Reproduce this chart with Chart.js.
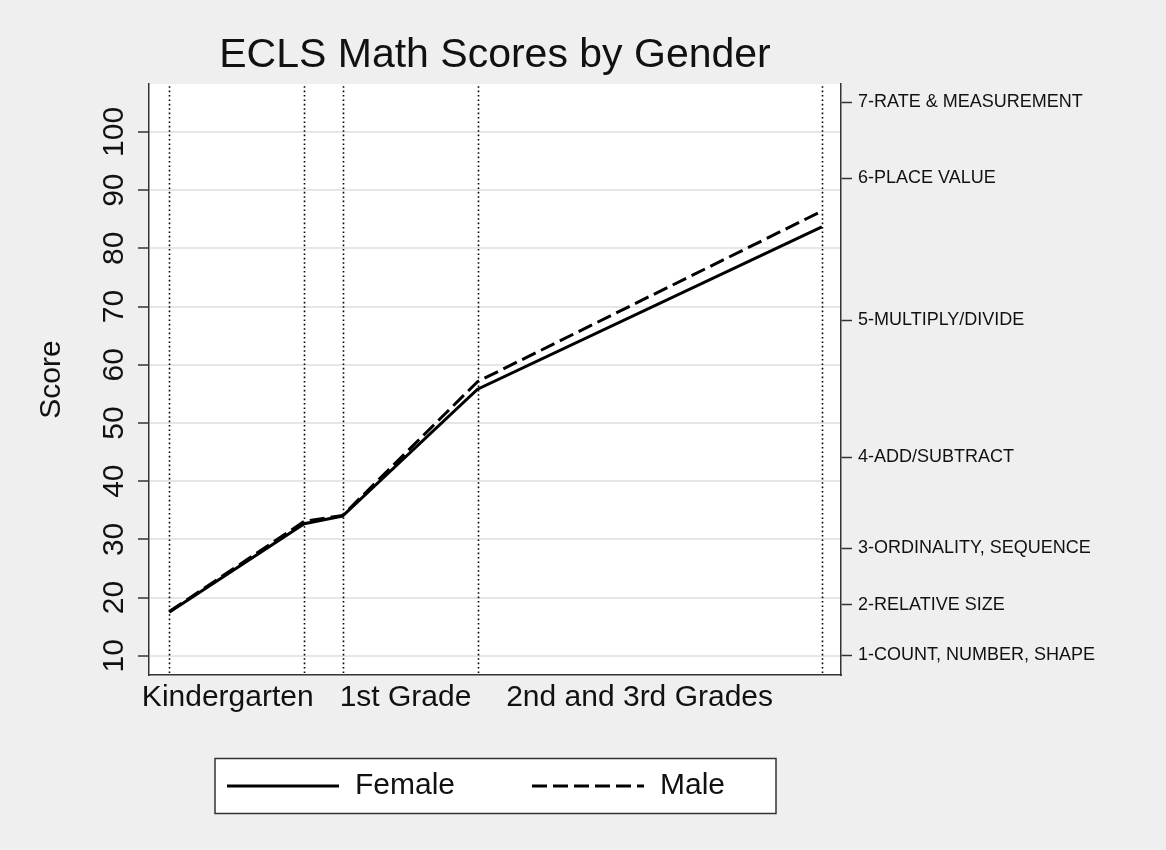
<!DOCTYPE html>
<html>
<head>
<meta charset="utf-8">
<title>ECLS Math Scores by Gender</title>
<script src="https://cdn.jsdelivr.net/npm/chart.js@4.4.1/dist/chart.umd.min.js"></script>
<style>
  html, body { margin: 0; padding: 0; background: #efefef; }
  #wrap { width: 1166px; height: 850px; }
</style>
</head>
<body>
<div id="wrap"><canvas id="mathChart" width="1166" height="850"></canvas></div>
<script>
// survey waves placed on a time axis
const waveTime = [0, 6, 7.7, 13.7, 29];
const female = [17.5, 32.7, 34.0, 55.8, 83.7];
const male = [17.6, 33.1, 34.1, 57.1, 86.4];

const gradeLabels = ['Kindergarten', '1st Grade', '2nd and 3rd Grades'];
const gradeLabelPos = [2.6, 10.5, 20.9];

const scoreTicks = [10, 20, 30, 40, 50, 60, 70, 80, 90, 100];

const levelNames = ['1-COUNT, NUMBER, SHAPE', '2-RELATIVE SIZE', '3-ORDINALITY, SEQUENCE',
    '4-ADD/SUBTRACT', '5-MULTIPLY/DIVIDE', '6-PLACE VALUE', '7-RATE & MEASUREMENT'];
const levelScores = [10.1, 18.8, 28.5, 44.1, 67.6, 92.0, 105.1];

const FONT = '"Liberation Sans", Arial, sans-serif';
Chart.defaults.font.family = FONT;
Chart.defaults.color = '#111';

// grey page, white plot region
const plotBackground = {
    id: 'plotBackground',
    beforeDraw(chart) {
        const { ctx, chartArea: a } = chart;
        ctx.save();
        ctx.fillStyle = '#efefef';
        ctx.fillRect(0, 0, chart.width, chart.height);
        ctx.fillStyle = '#ffffff';
        ctx.fillRect(a.left, a.top, a.right - a.left, a.bottom - a.top);
        ctx.restore();
    }
};

// dotted vertical line at every wave
const waveLines = {
    id: 'waveLines',
    beforeDatasetsDraw(chart) {
        const { ctx, chartArea: a, scales: { x } } = chart;
        ctx.save();
        ctx.strokeStyle = '#000';
        ctx.lineWidth = 1.6;
        ctx.setLineDash([1.6, 2.8]);
        waveTime.forEach(t => {
            const px = Math.round(x.getPixelForValue(t)) + 0.5;
            ctx.beginPath();
            ctx.moveTo(px, a.top + 2);
            ctx.lineTo(px, a.bottom);
            ctx.stroke();
        });
        ctx.restore();
    }
};

// framed legend under the plot, stata style
const boxLegend = {
    id: 'boxLegend',
    afterDraw(chart) {
        const ctx = chart.ctx;
        const a = chart.chartArea;
        const left = a.left + 66, top = 758.5, w = 561, h = 55;
        ctx.save();
        ctx.fillStyle = '#ffffff';
        ctx.fillRect(left, top, w, h);
        ctx.strokeStyle = '#333';
        ctx.lineWidth = 1.5;
        ctx.strokeRect(left, top, w, h);
        const cy = top + h / 2;
        const starts = [left + 12, left + 317];
        chart.data.datasets.forEach((ds, i) => {
            const x0 = starts[i];
            ctx.strokeStyle = ds.borderColor;
            ctx.lineWidth = ds.borderWidth;
            ctx.setLineDash(ds.borderDash || []);
            ctx.beginPath();
            ctx.moveTo(x0, cy);
            ctx.lineTo(x0 + 112, cy);
            ctx.stroke();
            ctx.setLineDash([]);
            ctx.fillStyle = '#111';
            ctx.font = '30px ' + FONT;
            ctx.textBaseline = 'middle';
            ctx.textAlign = 'left';
            ctx.fillText(ds.label, x0 + 128, cy);
        });
        ctx.restore();
    }
};

var ctx = document.getElementById('mathChart').getContext('2d');
var mathChart = new Chart(ctx, {
    type: 'line',
    data: {
        datasets: [{
            label: 'Female',
            data: waveTime.map((t, i) => ({ x: t, y: female[i] })),
            borderColor: '#000',
            borderWidth: 3,
            borderDash: [],
            pointRadius: 0,
            tension: 0
        }, {
            label: 'Male',
            data: waveTime.map((t, i) => ({ x: t, y: male[i] })),
            borderColor: '#000',
            borderWidth: 3,
            borderDash: [15, 6],
            pointRadius: 0,
            tension: 0
        }]
    },
    options: {
        responsive: false,
        animation: false,
        devicePixelRatio: 1,
        layout: { padding: 0 },
        plugins: {
            legend: { display: false },
            tooltip: { enabled: false },
            title: {
                display: true,
                text: 'ECLS Math Scores by Gender',
                fullSize: false,
                color: '#111',
                font: { size: 41, weight: 'normal' },
                padding: { top: 31, bottom: 4 }
            }
        },
        scales: {
            x: {
                type: 'linear',
                min: -0.9,
                max: 29.85,
                grid: { display: false, drawTicks: false },
                border: { display: true, color: '#333', width: 1.5 },
                ticks: {
                    font: { size: 30 },
                    color: '#111',
                    padding: 5,
                    autoSkip: false,
                    maxRotation: 0,
                    callback: (v, i) => gradeLabels[i]
                },
                afterBuildTicks: s => { s.ticks = gradeLabelPos.map(v => ({ value: v })); },
                afterFit: s => { s.height = 175; }
            },
            y: {
                position: 'left',
                min: 6.7,
                max: 108.2,
                grid: { color: '#e6e6e6', lineWidth: 2, tickColor: '#333', tickWidth: 1.5, tickLength: 11 },
                border: { display: true, color: '#333', width: 1.5 },
                ticks: {
                    font: { size: 30 },
                    color: '#111',
                    minRotation: 90,
                    maxRotation: 90,
                    crossAlign: 'center',
                    padding: -2,
                    autoSkip: false
                },
                title: {
                    display: true,
                    text: 'Score',
                    color: '#111',
                    font: { size: 30 },
                    padding: { top: 34, bottom: 0 }
                },
                afterBuildTicks: s => { s.ticks = scoreTicks.map(v => ({ value: v })); },
                afterFit: s => { s.width = 149; }
            },
            y2: {
                position: 'right',
                min: 6.7,
                max: 108.2,
                grid: { drawOnChartArea: false, tickColor: '#333', tickWidth: 1.5, tickLength: 11 },
                border: { display: true, color: '#333', width: 1.5 },
                ticks: {
                    font: { size: 18 },
                    color: '#111',
                    padding: 6,
                    autoSkip: false,
                    callback: (v, i) => levelNames[i]
                },
                afterBuildTicks: s => { s.ticks = levelScores.map(v => ({ value: v })); },
                afterFit: s => { s.width = 325; }
            }
        }
    },
    plugins: [plotBackground, waveLines, boxLegend]
});
</script>
</body>
</html>
